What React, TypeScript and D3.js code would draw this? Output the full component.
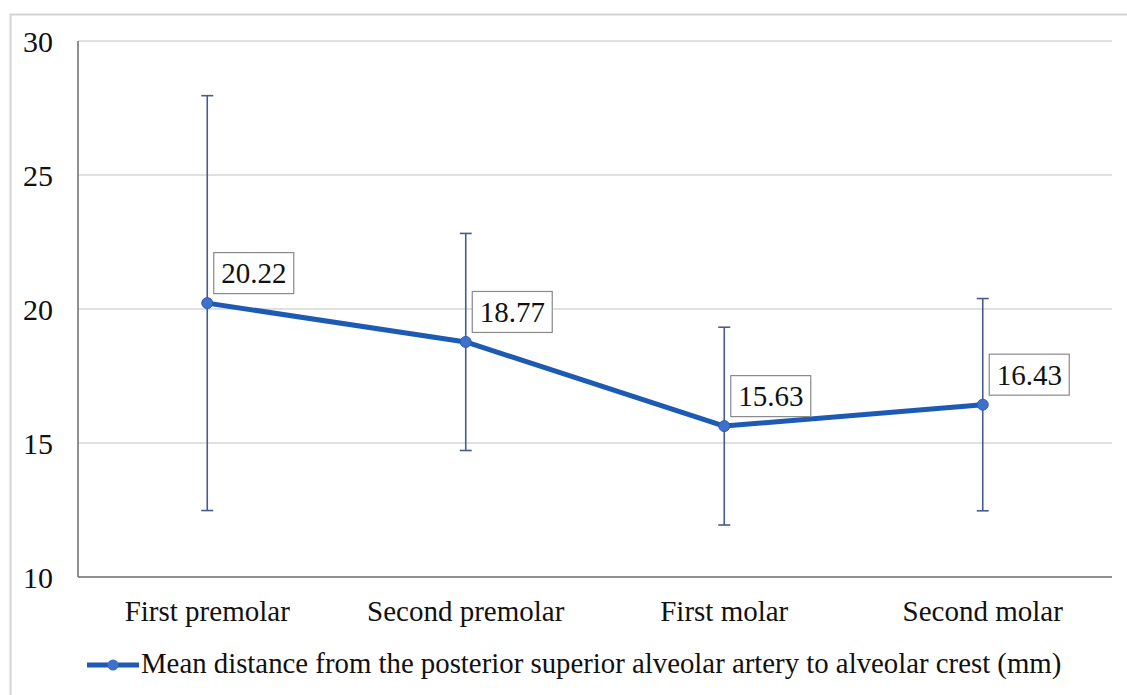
import { useEffect, useRef } from "react"
import * as d3 from "d3"

const categories = ["First premolar", "Second premolar", "First molar", "Second molar"]
const means = [20.22, 18.77, 15.63, 16.43]
const sds = [7.74, 4.05, 3.69, 3.96]
const yTicks = [10, 15, 20, 25, 30]
const legendLabel = "Mean distance from the posterior superior alveolar artery to alveolar crest (mm)"

export default function App() {
  const svgRef = useRef<SVGSVGElement>(null)

  useEffect(() => {
    if (!svgRef.current) return
    const svg = d3.select(svgRef.current)
    svg.selectAll("*").remove()

    const width = 1127
    const height = 695
    const plot = { left: 78, right: 1112, top: 41, bottom: 577 }
    const font = "Liberation Serif, DejaVu Serif"

    svg.append("rect").attr("width", width).attr("height", height).attr("fill", "#fff")

    // outer chart frame
    svg
      .append("path")
      .attr("d", `M10.5,${height} V14.5 H${width}`)
      .attr("fill", "none")
      .attr("stroke", "#d4d4d4")
      .attr("stroke-width", 2)

    const x = d3.scaleBand<string>().domain(categories).range([plot.left, plot.right]).padding(0)
    const y = d3.scaleLinear().domain([10, 30]).range([plot.bottom, plot.top])
    const cx = (c: string) => (x(c) ?? 0) + x.bandwidth() / 2

    // grid lines
    svg
      .append("g")
      .selectAll("line")
      .data(yTicks.filter((t) => t !== 10))
      .join("line")
      .attr("x1", plot.left)
      .attr("x2", plot.right)
      .attr("y1", (d) => y(d))
      .attr("y2", (d) => y(d))
      .attr("stroke", "#d6d6d6")
      .attr("stroke-width", 1.5)

    // axes lines
    svg
      .append("line")
      .attr("x1", plot.left)
      .attr("x2", plot.left)
      .attr("y1", plot.top)
      .attr("y2", plot.bottom)
      .attr("stroke", "#6b6b6b")
      .attr("stroke-width", 1.5)
    svg
      .append("line")
      .attr("x1", plot.left)
      .attr("x2", plot.right)
      .attr("y1", plot.bottom)
      .attr("y2", plot.bottom)
      .attr("stroke", "#6b6b6b")
      .attr("stroke-width", 1.5)

    // y tick labels
    svg
      .append("g")
      .selectAll("text")
      .data(yTicks)
      .join("text")
      .attr("x", 53)
      .attr("y", (d) => y(d))
      .attr("dy", "0.35em")
      .attr("text-anchor", "end")
      .style("font-family", font)
      .attr("font-size", 30)
      .attr("fill", "#111")
      .text((d) => d)

    // x category labels
    svg
      .append("g")
      .selectAll("text")
      .data(categories)
      .join("text")
      .attr("x", (d) => cx(d))
      .attr("y", 611)
      .attr("dy", "0.35em")
      .attr("text-anchor", "middle")
      .style("font-family", font)
      .attr("font-size", 29)
      .attr("fill", "#111")
      .text((d) => d)

    const rows = categories.map((c, i) => ({ c, mean: means[i], sd: sds[i] }))

    // error bars
    const eb = svg.append("g").attr("stroke", "#475c8c").attr("stroke-width", 1.6)
    rows.forEach((r) => {
      const px = cx(r.c)
      const top = y(r.mean + r.sd)
      const bot = y(r.mean - r.sd)
      eb.append("line").attr("x1", px).attr("x2", px).attr("y1", top).attr("y2", bot)
      eb.append("line").attr("x1", px - 6).attr("x2", px + 6).attr("y1", top).attr("y2", top)
      eb.append("line").attr("x1", px - 6).attr("x2", px + 6).attr("y1", bot).attr("y2", bot)
    })

    // mean line
    const line = d3
      .line<{ c: string; mean: number }>()
      .x((d) => cx(d.c))
      .y((d) => y(d.mean))
    svg
      .append("path")
      .datum(rows)
      .attr("d", line)
      .attr("fill", "none")
      .attr("stroke", "#1c5ab4")
      .attr("stroke-width", 5)
      .attr("stroke-linejoin", "round")

    svg
      .append("g")
      .selectAll("circle")
      .data(rows)
      .join("circle")
      .attr("cx", (d) => cx(d.c))
      .attr("cy", (d) => y(d.mean))
      .attr("r", 5.5)
      .attr("fill", "#3f70cc")
      .attr("stroke", "#2a5db6")
      .attr("stroke-width", 1)

    // data labels
    const lbl = svg.append("g")
    rows.forEach((r) => {
      const px = cx(r.c)
      const py = y(r.mean)
      lbl
        .append("rect")
        .attr("x", px + 6.5)
        .attr("y", py - 50.5)
        .attr("width", 80)
        .attr("height", 41)
        .attr("fill", "#fff")
        .attr("stroke", "#8a8a8a")
        .attr("stroke-width", 1.2)
      lbl
        .append("text")
        .attr("x", px + 46.5)
        .attr("y", py - 30)
        .attr("dy", "0.35em")
        .attr("text-anchor", "middle")
        .style("font-family", font)
        .attr("font-size", 29)
        .attr("fill", "#111")
        .text(r.mean.toFixed(2))
    })

    // legend
    const lg = svg.append("g").attr("transform", "translate(0, 665)")
    lg.append("line")
      .attr("x1", 87)
      .attr("x2", 139)
      .attr("stroke", "#1c5ab4")
      .attr("stroke-width", 5)
    lg.append("circle").attr("cx", 113).attr("r", 5.5).attr("fill", "#3f70cc")
    lg.append("text")
      .attr("x", 141)
      .attr("y", -2)
      .attr("dy", "0.35em")
      .style("font-family", font)
      .attr("font-size", 28.8)
      .attr("fill", "#111")
      .text(legendLabel)
  }, [])

  return (
    <svg
      ref={svgRef}
      width={1127}
      height={695}
      style={{ position: "absolute", left: 0, top: 0, display: "block" }}
    />
  )
}
